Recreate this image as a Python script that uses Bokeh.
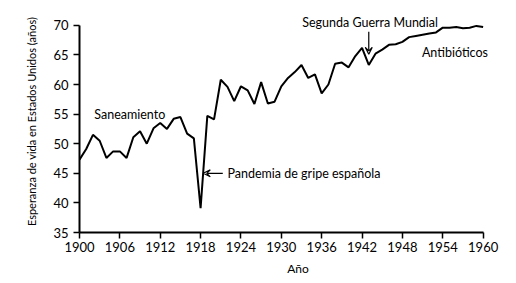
from bokeh.plotting import figure
from bokeh.models import Range1d, FixedTicker, Label, Arrow, VeeHead
from bokeh.embed import file_html
from bokeh.resources import INLINE

years = list(range(1900, 1961))
life_expectancy = [
    47.3, 49.1, 51.5, 50.5, 47.6, 48.7, 48.7, 47.6, 51.1, 52.1,
    50.0, 52.6, 53.5, 52.5, 54.2, 54.5, 51.7, 50.9, 39.1, 54.7,
    54.1, 60.8, 59.6, 57.2, 59.7, 59.0, 56.7, 60.4, 56.8, 57.1,
    59.7, 61.1, 62.1, 63.3, 61.1, 61.7, 58.5, 60.0, 63.5, 63.7,
    62.9, 64.8, 66.2, 63.3, 65.2, 65.9, 66.7, 66.8, 67.2, 68.0,
    68.2, 68.4, 68.6, 68.8, 69.6, 69.6, 69.7, 69.5, 69.6, 69.9,
    69.7,
]
x_ticks = [1900, 1906, 1912, 1918, 1924, 1930, 1936, 1942, 1948, 1954, 1960]
y_ticks = [35, 40, 45, 50, 55, 60, 65, 70]

FONT = "Lato"

p = figure(
    frame_width=437, frame_height=222,
    min_border_left=79, min_border_right=0, min_border_top=10, min_border_bottom=51,
    x_range=Range1d(1900, 1964.96), y_range=Range1d(35, 72.5),
    output_backend="svg", toolbar_location=None,
)
p.outline_line_color = None
p.grid.visible = False
p.background_fill_color = "white"
p.border_fill_color = "white"

p.line(years, life_expectancy, line_color="black", line_width=2)

for ax in (p.xaxis[0], p.yaxis[0]):
    ax.axis_line_color = "black"
    ax.axis_line_width = 2
    ax.major_tick_line_color = "black"
    ax.major_tick_line_width = 1.5
    ax.major_tick_out = 6
    ax.major_tick_in = 0
    ax.minor_tick_line_color = None
    ax.major_label_text_font = FONT
    ax.major_label_text_font_size = "13px"
    ax.major_label_text_color = "black"
    ax.axis_label_text_font = FONT
    ax.axis_label_text_font_style = "normal"
    ax.axis_label_text_color = "black"

p.xaxis.bounds = (1900, 1960)
p.yaxis.bounds = (35, 70)
p.xaxis.ticker = FixedTicker(ticks=x_ticks)
p.yaxis.ticker = FixedTicker(ticks=y_ticks)
p.xaxis.axis_label = "Año"
p.yaxis.axis_label = "Esperanza de vida en Estados Unidos (años)"
p.xaxis.axis_label_text_font_size = "12px"
p.yaxis.axis_label_text_font_size = "11px"
p.xaxis.major_label_standoff = 3
p.yaxis.major_label_standoff = 5
p.xaxis.axis_label_standoff = 6
p.yaxis.axis_label_standoff = 12

def add_label(x, y, text, align="left"):
    p.add_layout(Label(x=x, y=y, text=text, text_font=FONT, text_font_size="12.5px",
                       text_align=align, text_baseline="middle", text_color="black"))

add_label(1902.2, 55.0, "Saneamiento")
add_label(1922.0, 45.0, "Pandemia de gripe española")
add_label(1943.2, 70.45, "Segunda Guerra Mundial", align="center")
add_label(1950.9, 65.4, "Antibióticos")

p.add_layout(Arrow(x_start=1921.3, y_start=45.0, x_end=1918.4, y_end=45.0,
                   line_color="black", line_width=1.2,
                   end=VeeHead(size=7, line_color="black", line_width=1.2, fill_color=None)))
p.add_layout(Arrow(x_start=1943.0, y_start=68.9, x_end=1943.0, y_end=65.1,
                   line_color="black", line_width=1.2,
                   end=VeeHead(size=7, line_color="black", line_width=1.2, fill_color=None)))

open("out.html", "w").write(file_html(p, INLINE))
